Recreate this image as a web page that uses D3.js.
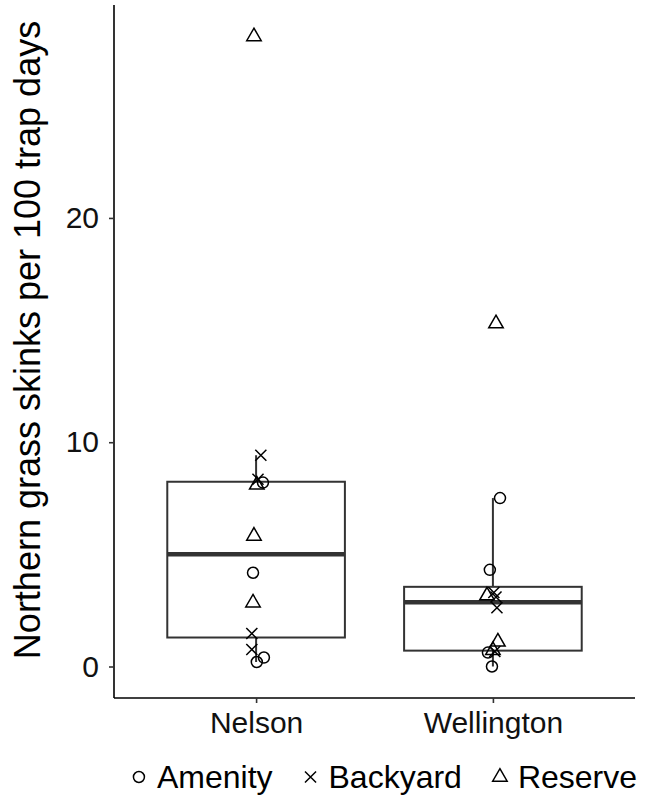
<!DOCTYPE html>
<html>
<head>
  <meta charset="UTF-8">
  <title>Northern grass skinks</title>
  <script src="https://d3js.org/d3.v7.min.js"></script>
  <style>
    body {
      margin: 0;
      font-family: "Liberation Sans", Arial, sans-serif;
      background: #fff;
    }
    .box {
      fill: #fff;
      stroke: #333;
      stroke-width: 2;
    }
    .whisker {
      stroke: #333;
      stroke-width: 2;
    }
    .median {
      stroke: #333;
      stroke-width: 4.5;
    }
    .pt {
      fill: none;
      stroke: #000;
      stroke-width: 1.5;
    }
  </style>
</head>
<body>
  <div id="chart"></div>
  <script>
    // data
    const sites = ["Nelson", "Wellington"];
    const habitats = ["Amenity", "Backyard", "Reserve"];

    const pointSite = [
      "Nelson", "Nelson", "Nelson", "Nelson", "Nelson", "Nelson",
      "Nelson", "Nelson", "Nelson", "Nelson", "Nelson", "Nelson",
      "Wellington", "Wellington", "Wellington", "Wellington", "Wellington", "Wellington",
      "Wellington", "Wellington", "Wellington", "Wellington", "Wellington", "Wellington"
    ];
    const pointHabitat = [
      "Reserve", "Backyard", "Backyard", "Amenity", "Reserve", "Reserve",
      "Amenity", "Reserve", "Backyard", "Backyard", "Amenity", "Amenity",
      "Reserve", "Amenity", "Amenity", "Reserve", "Backyard", "Backyard",
      "Backyard", "Reserve", "Amenity", "Backyard", "Reserve", "Amenity"
    ];
    const pointValue = [
      28.09, 9.42, 8.35, 8.2, 8.1, 5.82,
      4.18, 2.84, 1.47, 0.76, 0.2, 0.4,
      15.29, 7.51, 4.31, 3.16, 3.3, 3.1,
      2.62, 1.1, 0.62, 0.67, 0.72, 0.0
    ];
    // horizontal jitter, in category units
    const pointJitter = [
      -0.009, 0.02, 0.008, 0.029, 0.003, -0.009,
      -0.013, -0.013, -0.018, -0.018, 0.003, 0.033,
      0.013, 0.03, -0.013, -0.025, 0.004, 0.013,
      0.017, 0.021, -0.021, 0.008, 0.0, -0.004
    ];
    const yTicks = [0, 10, 20];

    const points = pointValue.map((v, i) => ({
      site: pointSite[i], habitat: pointHabitat[i], value: v, jitter: pointJitter[i]
    }));

    const W = 660, H = 809;
    const panel = { left: 114, right: 635, top: 5, bottom: 698 };

    const svg = d3.select("#chart").append("svg")
      .attr("width", W)
      .attr("height", H);

    // discrete x like ggplot: 0.6 units of padding each side
    const x = d3.scaleLinear()
      .domain([0.4, sites.length + 0.6])
      .range([panel.left, panel.right]);
    const xPos = s => x(sites.indexOf(s) + 1);

    const yMax = d3.max(pointValue), yMin = d3.min(pointValue);
    const pad = (yMax - yMin) * 0.05;
    const y = d3.scaleLinear()
      .domain([yMin - pad, yMax + pad])
      .range([panel.bottom, panel.top]);

    // boxplots
    const boxW = 0.75;
    sites.forEach(s => {
      const vals = points.filter(d => d.site === s).map(d => d.value).sort(d3.ascending);
      const q1 = d3.quantile(vals, 0.25), med = d3.quantile(vals, 0.5), q3 = d3.quantile(vals, 0.75);
      const iqr = q3 - q1;
      const hi = d3.max(vals.filter(v => v <= q3 + 1.5 * iqr));
      const lo = d3.min(vals.filter(v => v >= q1 - 1.5 * iqr));
      const cx = xPos(s);
      const x0 = x(sites.indexOf(s) + 1 - boxW / 2), x1 = x(sites.indexOf(s) + 1 + boxW / 2);
      const g = svg.append("g");
      g.append("line").attr("class", "whisker")
        .attr("x1", cx).attr("x2", cx).attr("y1", y(q3)).attr("y2", y(hi));
      g.append("line").attr("class", "whisker")
        .attr("x1", cx).attr("x2", cx).attr("y1", y(q1)).attr("y2", y(lo));
      g.append("rect").attr("class", "box")
        .attr("x", x0).attr("y", y(q3))
        .attr("width", x1 - x0).attr("height", y(q1) - y(q3));
      g.append("line").attr("class", "median")
        .attr("x1", x0).attr("x2", x1).attr("y1", y(med)).attr("y2", y(med));
    });

    // point shapes
    const shape = d3.scaleOrdinal()
      .domain(habitats)
      .range([d3.symbol(d3.symbolCircle, 95), d3.symbol(d3.symbolTimes, 82), d3.symbol(d3.symbolTriangle2, 150)]);

    svg.append("g").selectAll("path")
      .data(points)
      .join("path")
      .attr("class", "pt")
      .attr("d", d => shape(d.habitat)())
      .attr("transform", d => `translate(${x(sites.indexOf(d.site) + 1 + d.jitter)},${y(d.value)})`);

    // axes
    const yAxis = svg.append("g")
      .attr("transform", `translate(${panel.left},0)`)
      .call(d3.axisLeft(y).tickValues(yTicks).tickSize(5).tickPadding(10).tickSizeOuter(0));
    const xAxis = svg.append("g")
      .attr("transform", `translate(0,${panel.bottom})`)
      .call(d3.axisBottom(x).tickValues(d3.range(1, sites.length + 1)).tickFormat(i => sites[i - 1])
        .tickSize(5).tickPadding(9).tickSizeOuter(0));

    [yAxis, xAxis].forEach(a => {
      a.select(".domain").attr("stroke", "#000").attr("stroke-width", 1.6);
      a.selectAll(".tick line").attr("stroke", "#333").attr("stroke-width", 1.6);
      a.selectAll(".tick text").attr("fill", "#111")
        .style("font-family", "'Liberation Sans', Arial, sans-serif").style("font-size", "30px");
    });
    // stretch axis lines to the panel box
    yAxis.select(".domain").attr("d", `M0,${panel.bottom}V${panel.top}`);
    xAxis.select(".domain").attr("d", `M${panel.left},0H${panel.right}`);

    svg.append("text")
      .attr("transform", `translate(40,340) rotate(-90)`)
      .attr("text-anchor", "middle")
      .style("font-size", "36px")
      .attr("fill", "#000")
      .text("Northern grass skinks per 100 trap days");

    // legend at the bottom
    const legend = svg.append("g");
    const gap = 38;
    let lx = 0;
    habitats.forEach(h => {
      const g = legend.append("g").attr("transform", `translate(${lx},0)`);
      g.append("path").attr("class", "pt").attr("d", shape(h)());
      const t = g.append("text").attr("x", 18).attr("dy", "0.35em")
        .style("font-size", "32px").attr("fill", "#000").text(h);
      lx += 18 + t.node().getComputedTextLength() + gap;
    });
    const totalW = lx - gap;
    legend.attr("transform", `translate(${381 - totalW / 2 + 7},777)`);
  </script>
</body>
</html>
